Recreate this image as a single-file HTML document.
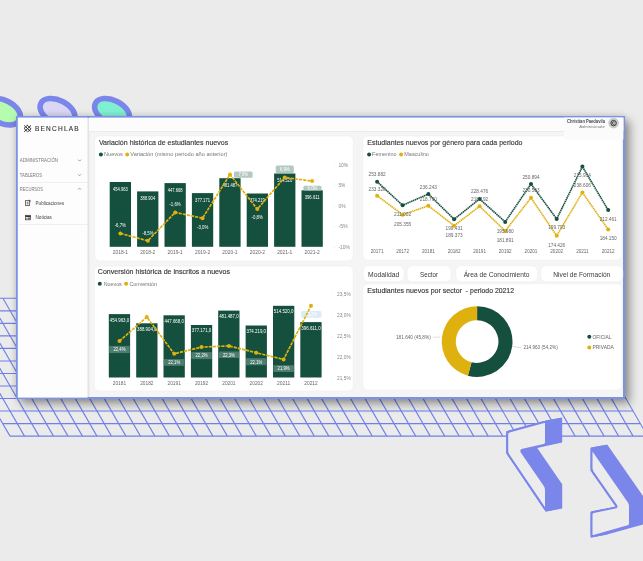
<!DOCTYPE html><html><head><meta charset="utf-8"><title>Benchlab</title>
<style>
html,body{margin:0;padding:0}
body{width:643px;height:561px;overflow:hidden;background:#ebebeb;position:relative;font-family:"Liberation Sans",sans-serif}
svg{position:absolute;left:0;top:0;will-change:transform}
text{font-family:"Liberation Sans",sans-serif}
.ser{font-family:"Liberation Serif",serif}
</style></head><body>
<svg width="643" height="561" viewBox="0 0 643 561">
<g stroke="#7080e8" stroke-width="1.1" fill="none">
<path d="M-69.53 298.30H568.03"/>
<path d="M-62.30 310.83H575.26"/>
<path d="M-55.07 323.36H582.49"/>
<path d="M-47.84 335.89H589.72"/>
<path d="M-40.61 348.42H596.95"/>
<path d="M-33.38 360.95H604.18"/>
<path d="M-26.15 373.48H611.41"/>
<path d="M-18.92 386.01H618.64"/>
<path d="M-11.69 398.54H625.87"/>
<path d="M-4.46 411.07H633.10"/>
<path d="M2.77 423.60H640.33"/>
<path d="M10.00 436.13H647.56"/>
<path d="M-69.53 298.30L10.00 436.13"/>
<path d="M-55.04 298.30L24.49 436.13"/>
<path d="M-40.55 298.30L38.98 436.13"/>
<path d="M-26.06 298.30L53.47 436.13"/>
<path d="M-11.57 298.30L67.96 436.13"/>
<path d="M2.92 298.30L82.45 436.13"/>
<path d="M17.41 298.30L96.94 436.13"/>
<path d="M31.90 298.30L111.43 436.13"/>
<path d="M46.39 298.30L125.92 436.13"/>
<path d="M60.88 298.30L140.41 436.13"/>
<path d="M75.37 298.30L154.90 436.13"/>
<path d="M89.86 298.30L169.39 436.13"/>
<path d="M104.35 298.30L183.88 436.13"/>
<path d="M118.84 298.30L198.37 436.13"/>
<path d="M133.33 298.30L212.86 436.13"/>
<path d="M147.82 298.30L227.35 436.13"/>
<path d="M162.31 298.30L241.84 436.13"/>
<path d="M176.80 298.30L256.33 436.13"/>
<path d="M191.29 298.30L270.82 436.13"/>
<path d="M205.78 298.30L285.31 436.13"/>
<path d="M220.27 298.30L299.80 436.13"/>
<path d="M234.76 298.30L314.29 436.13"/>
<path d="M249.25 298.30L328.78 436.13"/>
<path d="M263.74 298.30L343.27 436.13"/>
<path d="M278.23 298.30L357.76 436.13"/>
<path d="M292.72 298.30L372.25 436.13"/>
<path d="M307.21 298.30L386.74 436.13"/>
<path d="M321.70 298.30L401.23 436.13"/>
<path d="M336.19 298.30L415.72 436.13"/>
<path d="M350.68 298.30L430.21 436.13"/>
<path d="M365.17 298.30L444.70 436.13"/>
<path d="M379.66 298.30L459.19 436.13"/>
<path d="M394.15 298.30L473.68 436.13"/>
<path d="M408.64 298.30L488.17 436.13"/>
<path d="M423.13 298.30L502.66 436.13"/>
<path d="M437.62 298.30L517.15 436.13"/>
<path d="M452.11 298.30L531.64 436.13"/>
<path d="M466.60 298.30L546.13 436.13"/>
<path d="M481.09 298.30L560.62 436.13"/>
<path d="M495.58 298.30L575.11 436.13"/>
<path d="M510.07 298.30L589.60 436.13"/>
<path d="M524.56 298.30L604.09 436.13"/>
<path d="M539.05 298.30L618.58 436.13"/>
<path d="M553.54 298.30L633.07 436.13"/>
<path d="M568.03 298.30L647.56 436.13"/>
</g>
<ellipse cx="3.0" cy="111.7" rx="18.6" ry="11.5" transform="rotate(26.5 3.0 111.7)" fill="#b6fcb0" stroke="#7b86ea" stroke-width="5.6"/>
<ellipse cx="57.5" cy="111.7" rx="18.6" ry="11.5" transform="rotate(26.5 57.5 111.7)" fill="#dad6f4" stroke="#7b86ea" stroke-width="5.6"/>
<ellipse cx="112.0" cy="111.7" rx="18.6" ry="11.5" transform="rotate(26.5 112.0 111.7)" fill="#80f0d2" stroke="#7b86ea" stroke-width="5.6"/>
<g fill="#7b86ea" stroke="#7b86ea" stroke-width="1.8" stroke-linejoin="round"><path d="M507.2 432.0L546.0 421.5L561.3 418.6L522.5 429.1Z"/><path d="M546.0 421.5L546.0 444.5L561.3 441.6L561.3 418.6Z"/><path d="M546.0 444.5L520.5 450.3L535.8 447.4L561.3 441.6Z"/><path d="M520.5 450.3L546.0 487.5L561.3 484.6L535.8 447.4Z"/><path d="M546.0 487.5L546.0 510.5L561.3 507.6L561.3 484.6Z"/><path d="M546.0 510.5L507.2 453.0L522.5 450.1L561.3 507.6Z"/><path d="M507.2 453.0L507.2 432.0L522.5 429.1L522.5 450.1Z"/><path d="M507.20 434.20Q507.20 432.00 509.32 431.43L543.88 422.07Q546.00 421.50 546.00 423.70L546.00 442.30Q546.00 444.50 543.85 444.99L522.65 449.81Q520.50 450.30 521.74 452.11L544.76 485.69Q546.00 487.50 546.00 489.70L546.00 508.30Q546.00 510.50 544.77 508.68L508.43 454.82Q507.20 453.00 507.20 450.80Z" fill="#ececec" stroke-width="2"/></g>
<g fill="#7b86ea" stroke="#7b86ea" stroke-width="1.8" stroke-linejoin="round"><path d="M591.5 448.5L630.0 503.7L645.3 500.8L606.8 445.6Z"/><path d="M630.0 503.7L630.0 525.7L645.3 522.8L645.3 500.8Z"/><path d="M630.0 525.7L591.5 536.5L606.8 533.6L645.3 522.8Z"/><path d="M591.5 536.5L591.5 512.5L606.8 509.6L606.8 533.6Z"/><path d="M591.5 512.5L617.3 507.2L632.6 504.3L606.8 509.6Z"/><path d="M617.3 507.2L591.5 470.3L606.8 467.4L632.6 504.3Z"/><path d="M591.5 470.3L591.5 448.5L606.8 445.6L606.8 467.4Z"/><path d="M591.50 450.70Q591.50 448.50 592.76 450.30L628.74 501.90Q630.00 503.70 630.00 505.90L630.00 523.50Q630.00 525.70 627.88 526.29L593.62 535.91Q591.50 536.50 591.50 534.30L591.50 514.70Q591.50 512.50 593.65 512.06L615.15 507.64Q617.30 507.20 616.04 505.40L592.76 472.10Q591.50 470.30 591.50 468.10Z" fill="#ececec" stroke-width="2"/></g>
</svg>
<div style="position:absolute;left:16.0px;top:116.0px;width:609.0px;height:283.4px;background:#f5f5f6;border:solid #7b93e6;border-width:2px 2px 2px 2.3px;box-sizing:border-box;box-shadow:5px 5px 9px rgba(0,0,0,0.36), 0 0 7px rgba(0,0,0,0.16)"></div>
<svg width="643" height="561" viewBox="0 0 643 561">
<rect x="17.8" y="117.6" width="69.8" height="280" fill="#fdfdfd"/>
<defs><linearGradient id="sg" x1="0" x2="1" y1="0" y2="0"><stop offset="0" stop-color="#000" stop-opacity="0.10"/><stop offset="1" stop-color="#000" stop-opacity="0"/></linearGradient></defs><rect x="87.6" y="117.6" width="2.6" height="280" fill="url(#sg)"/>
<rect x="89" y="117.6" width="534.4" height="13.4" fill="#fcfcfc"/>
<rect x="89" y="131" width="475" height="0.8" fill="#e9e9e9"/>
<rect x="94.6" y="136.0" width="258.7" height="125.0" rx="5" fill="#fff" stroke="#ececec" stroke-width="0.6"/>
<rect x="94.3" y="266.0" width="259.0" height="125.0" rx="5" fill="#fff" stroke="#ececec" stroke-width="0.6"/>
<rect x="362.8" y="136.0" width="259.2" height="124.2" rx="5" fill="#fff" stroke="#ececec" stroke-width="0.6"/>
<rect x="362.8" y="283.8" width="259.2" height="106.5" rx="5" fill="#fff" stroke="#ececec" stroke-width="0.6"/>
<rect x="564" y="117.6" width="59.4" height="22" fill="#fbfbfb"/>
<rect x="363.1" y="265.6" width="41.0" height="16.3" rx="5.5" fill="#fff" stroke="#ececec" stroke-width="0.6"/>
<text x="383.6" y="276.8" font-size="6.9" fill="#3a3a3a" text-anchor="middle" textLength="31.2" lengthAdjust="spacingAndGlyphs">Modalidad</text>
<rect x="407.0" y="265.6" width="44.2" height="16.3" rx="5.5" fill="#fff" stroke="#ececec" stroke-width="0.6"/>
<text x="429.1" y="276.8" font-size="6.9" fill="#3a3a3a" text-anchor="middle" textLength="18.0" lengthAdjust="spacingAndGlyphs">Sector</text>
<rect x="455.8" y="265.6" width="81.7" height="16.3" rx="5.5" fill="#fff" stroke="#ececec" stroke-width="0.6"/>
<text x="496.6" y="276.8" font-size="6.9" fill="#3a3a3a" text-anchor="middle" textLength="65.9" lengthAdjust="spacingAndGlyphs">Área de Conocimiento</text>
<rect x="540.7" y="265.6" width="82.1" height="16.3" rx="5.5" fill="#fff" stroke="#ececec" stroke-width="0.6"/>
<text x="581.8" y="276.8" font-size="6.9" fill="#3a3a3a" text-anchor="middle" textLength="56.9" lengthAdjust="spacingAndGlyphs">Nivel de Formación</text>
<g stroke="#333" stroke-width="1" fill="none"><path d="M24.2 125.4l6.6 6.2M27.2 125.2l3.8 3.6M24 128.4l3.6 3.4M31 125.4l-6.8 6.4M27.4 125.2l-3.4 3.2M31.2 128.6l-3.4 3.2"/></g>
<text x="34.9" y="130.8" font-size="6.5" fill="#333" textLength="43.8" lengthAdjust="spacing" stroke="#333" stroke-width="0.12">BENCHLAB</text>
<text x="19.85" y="162.00" font-size="4.8" fill="#777" text-anchor="start" font-weight="normal" textLength="38.20" lengthAdjust="spacingAndGlyphs" >ADMINISTRACIÓN</text>
<text x="19.85" y="176.50" font-size="4.8" fill="#777" text-anchor="start" font-weight="normal" textLength="22.10" lengthAdjust="spacingAndGlyphs" >TABLEROS</text>
<text x="19.85" y="190.90" font-size="4.8" fill="#777" text-anchor="start" font-weight="normal" textLength="23.10" lengthAdjust="spacingAndGlyphs" >RECURSOS</text>
<g stroke="#666" stroke-width="0.6" fill="none"><path d="M78.1 159.6l1.5 1.5l1.5-1.5M78.1 174.3l1.5 1.5l1.5-1.5M78.1 189.6l1.5-1.5l1.5 1.5"/></g>
<rect x="17.8" y="182.3" width="70.2" height="0.6" fill="#e8e8e8"/>
<rect x="17.8" y="224.1" width="70.2" height="0.6" fill="#e8e8e8"/>
<text x="35.50" y="204.90" font-size="5.0" fill="#444" text-anchor="start" font-weight="normal" textLength="28.60" lengthAdjust="spacingAndGlyphs" >Publicaciones</text>
<text x="35.50" y="218.70" font-size="5.0" fill="#444" text-anchor="start" font-weight="normal" textLength="16.40" lengthAdjust="spacingAndGlyphs" >Noticias</text>
<g stroke="#333" stroke-width="0.7" fill="none"><rect x="25.5" y="200.7" width="4.2" height="4.9"/><path d="M26.7 202.3h1.8M26.7 203.8h1.8"/><path d="M28.6 200.3h1.6v1.6" stroke-width="0.6"/></g>
<g stroke="#333" stroke-width="0.7" fill="none"><rect x="25.5" y="215.3" width="5" height="4.5"/><path d="M25.5 216.3h5" stroke-width="1.4"/><path d="M26.3 218.3h1.3M28.3 217.8h1.3v1.1h-1.3z"/></g>
<text x="605.00" y="122.90" font-size="5.4" fill="#4a4a4a" text-anchor="end" font-weight="bold" textLength="37.90" lengthAdjust="spacingAndGlyphs" >Christian Paedavila</text>
<text x="605.00" y="127.60" font-size="4.4" fill="#777" text-anchor="end" font-weight="normal" textLength="25.80" lengthAdjust="spacingAndGlyphs" font-style="italic">Administrador</text>
<circle cx="613.6" cy="123.1" r="5.3" fill="#cacaca"/><circle cx="613.6" cy="123.1" r="2.7" fill="none" stroke="#2e2e2e" stroke-width="0.9"/><path d="M614.6 122.2a1.3 1.3 0 1 0 0 1.8" fill="none" stroke="#2e2e2e" stroke-width="0.8"/>
<text x="98.90" y="144.90" font-size="7.1" fill="#383838" text-anchor="start" font-weight="normal" textLength="129.30" lengthAdjust="spacingAndGlyphs" stroke="#383838" stroke-width="0.14">Variación histórica de estudiantes nuevos</text>
<circle cx="100.9" cy="154.5" r="2.0" fill="#15503f"/>
<text x="104.10" y="156.40" font-size="5.6" fill="#777" text-anchor="start" font-weight="normal" textLength="18.80" lengthAdjust="spacingAndGlyphs" >Nuevos</text>
<circle cx="127.2" cy="154.5" r="2.0" fill="#dfb10f"/>
<text x="130.30" y="156.40" font-size="5.6" fill="#777" text-anchor="start" font-weight="normal" textLength="97.10" lengthAdjust="spacingAndGlyphs" >Variación (mismo periodo año anterior)</text>
<rect x="109.7" y="182.0" width="21.3" height="64.8" fill="#15503f"/>
<rect x="137.1" y="191.4" width="21.3" height="55.4" fill="#15503f"/>
<rect x="164.5" y="183.1" width="21.3" height="63.7" fill="#15503f"/>
<rect x="191.9" y="193.1" width="21.3" height="53.7" fill="#15503f"/>
<rect x="219.3" y="178.2" width="21.3" height="68.6" fill="#15503f"/>
<rect x="246.7" y="193.5" width="21.3" height="53.3" fill="#15503f"/>
<rect x="274.1" y="173.5" width="21.3" height="73.3" fill="#15503f"/>
<rect x="301.5" y="190.3" width="21.3" height="56.5" fill="#15503f"/>
<text x="120.35" y="253.80" font-size="5.0" fill="#666" text-anchor="middle" font-weight="normal" textLength="15.20" lengthAdjust="spacingAndGlyphs" >2018-1</text>
<text x="147.75" y="253.80" font-size="5.0" fill="#666" text-anchor="middle" font-weight="normal" textLength="15.20" lengthAdjust="spacingAndGlyphs" >2018-2</text>
<text x="175.15" y="253.80" font-size="5.0" fill="#666" text-anchor="middle" font-weight="normal" textLength="15.20" lengthAdjust="spacingAndGlyphs" >2019-1</text>
<text x="202.55" y="253.80" font-size="5.0" fill="#666" text-anchor="middle" font-weight="normal" textLength="15.20" lengthAdjust="spacingAndGlyphs" >2019-2</text>
<text x="229.95" y="253.80" font-size="5.0" fill="#666" text-anchor="middle" font-weight="normal" textLength="15.20" lengthAdjust="spacingAndGlyphs" >2020-1</text>
<text x="257.35" y="253.80" font-size="5.0" fill="#666" text-anchor="middle" font-weight="normal" textLength="15.20" lengthAdjust="spacingAndGlyphs" >2020-2</text>
<text x="284.75" y="253.80" font-size="5.0" fill="#666" text-anchor="middle" font-weight="normal" textLength="15.20" lengthAdjust="spacingAndGlyphs" >2021-1</text>
<text x="312.15" y="253.80" font-size="5.0" fill="#666" text-anchor="middle" font-weight="normal" textLength="15.20" lengthAdjust="spacingAndGlyphs" >2021-2</text>
<text x="338.40" y="166.60" font-size="4.9" fill="#888" text-anchor="start" font-weight="normal" textLength="9.80" lengthAdjust="spacingAndGlyphs" >10%</text>
<rect x="334" y="164.6" width="0.7" height="0.5" fill="#ccc"/>
<text x="338.40" y="187.20" font-size="4.9" fill="#888" text-anchor="start" font-weight="normal" textLength="7.00" lengthAdjust="spacingAndGlyphs" >5%</text>
<rect x="334" y="185.2" width="0.7" height="0.5" fill="#ccc"/>
<text x="338.40" y="208.00" font-size="4.9" fill="#888" text-anchor="start" font-weight="normal" textLength="7.20" lengthAdjust="spacingAndGlyphs" >0%</text>
<rect x="334" y="206.0" width="0.7" height="0.5" fill="#ccc"/>
<text x="338.40" y="228.20" font-size="4.9" fill="#888" text-anchor="start" font-weight="normal" textLength="9.30" lengthAdjust="spacingAndGlyphs" >-5%</text>
<rect x="334" y="226.2" width="0.7" height="0.5" fill="#ccc"/>
<text x="338.40" y="249.10" font-size="4.9" fill="#888" text-anchor="start" font-weight="normal" textLength="11.40" lengthAdjust="spacingAndGlyphs" >-10%</text>
<rect x="334" y="247.1" width="0.7" height="0.5" fill="#ccc"/>
<rect x="234.0" y="171.4" width="18.6" height="6.3" rx="1.5" fill="#b3c8c1"/>
<text x="243.30" y="176.25" font-size="4.7" fill="#fff" text-anchor="middle" font-weight="normal" textLength="9.80" lengthAdjust="spacingAndGlyphs" >7,6%</text>
<rect x="275.7" y="165.6" width="18.1" height="7.3" rx="1.5" fill="#b3c8c1"/>
<text x="284.75" y="170.95" font-size="4.7" fill="#fff" text-anchor="middle" font-weight="normal" textLength="9.80" lengthAdjust="spacingAndGlyphs" >6,9%</text>
<rect x="303.4" y="185.7" width="18.1" height="4.9" rx="1.5" fill="#b3c8c1"/>
<text x="312.45" y="189.85" font-size="4.7" fill="#fff" text-anchor="middle" font-weight="normal" textLength="9.80" lengthAdjust="spacingAndGlyphs" >6,0%</text>
<text x="120.35" y="190.51" font-size="5.0" fill="#fff" text-anchor="middle" font-weight="normal" textLength="14.90" lengthAdjust="spacingAndGlyphs" >454.963</text>
<text x="147.75" y="199.92" font-size="5.0" fill="#fff" text-anchor="middle" font-weight="normal" textLength="14.90" lengthAdjust="spacingAndGlyphs" >388.904</text>
<text x="175.15" y="191.55" font-size="5.0" fill="#fff" text-anchor="middle" font-weight="normal" textLength="14.90" lengthAdjust="spacingAndGlyphs" >447.668</text>
<text x="202.55" y="201.59" font-size="5.0" fill="#fff" text-anchor="middle" font-weight="normal" textLength="14.90" lengthAdjust="spacingAndGlyphs" >377.171</text>
<text x="229.95" y="186.74" font-size="5.0" fill="#fff" text-anchor="middle" font-weight="normal" textLength="14.90" lengthAdjust="spacingAndGlyphs" >481.487</text>
<text x="257.35" y="202.01" font-size="5.0" fill="#fff" text-anchor="middle" font-weight="normal" textLength="14.90" lengthAdjust="spacingAndGlyphs" >374.219</text>
<text x="284.75" y="182.03" font-size="5.0" fill="#fff" text-anchor="middle" font-weight="normal" textLength="14.90" lengthAdjust="spacingAndGlyphs" >514.520</text>
<text x="312.15" y="198.82" font-size="5.0" fill="#fff" text-anchor="middle" font-weight="normal" textLength="14.90" lengthAdjust="spacingAndGlyphs" >396.611</text>
<text x="120.30" y="226.80" font-size="5.0" fill="#fff" text-anchor="middle" font-weight="normal" textLength="11.30" lengthAdjust="spacingAndGlyphs" >-6,7%</text>
<text x="147.90" y="234.70" font-size="5.0" fill="#fff" text-anchor="middle" font-weight="normal" textLength="11.30" lengthAdjust="spacingAndGlyphs" >-8,5%</text>
<text x="175.00" y="206.10" font-size="5.0" fill="#fff" text-anchor="middle" font-weight="normal" textLength="11.30" lengthAdjust="spacingAndGlyphs" >-1,6%</text>
<text x="202.60" y="228.80" font-size="5.0" fill="#fff" text-anchor="middle" font-weight="normal" textLength="11.30" lengthAdjust="spacingAndGlyphs" >-3,0%</text>
<text x="257.20" y="219.10" font-size="5.0" fill="#fff" text-anchor="middle" font-weight="normal" textLength="11.30" lengthAdjust="spacingAndGlyphs" >-0,8%</text>
<path d="M120.4 233.4L147.8 240.8L175.2 212.4L202.5 218.2L230.0 174.5L257.3 209.1L284.7 177.4L312.1 181.1" fill="none" stroke="#dfb10f" stroke-width="1.65" stroke-dasharray="3.2 1" stroke-linejoin="round"/>
<circle cx="120.4" cy="233.4" r="2.0" fill="#dfb10f"/>
<circle cx="147.8" cy="240.8" r="2.0" fill="#dfb10f"/>
<circle cx="175.2" cy="212.4" r="2.0" fill="#dfb10f"/>
<circle cx="202.5" cy="218.2" r="2.0" fill="#dfb10f"/>
<circle cx="230.0" cy="174.5" r="2.0" fill="#dfb10f"/>
<circle cx="257.3" cy="209.1" r="2.0" fill="#dfb10f"/>
<circle cx="284.7" cy="177.4" r="2.0" fill="#dfb10f"/>
<circle cx="312.1" cy="181.1" r="2.0" fill="#dfb10f"/>
<text x="97.80" y="274.10" font-size="7.1" fill="#383838" text-anchor="start" font-weight="normal" textLength="132.20" lengthAdjust="spacingAndGlyphs" stroke="#383838" stroke-width="0.14">Conversión histórica de inscritos a nuevos</text>
<circle cx="99.8" cy="283.7" r="2.0" fill="#15503f"/>
<text x="103.70" y="285.60" font-size="5.6" fill="#777" text-anchor="start" font-weight="normal" textLength="18.10" lengthAdjust="spacingAndGlyphs" >Nuevos</text>
<circle cx="126.1" cy="283.7" r="2.0" fill="#dfb10f"/>
<text x="129.40" y="285.60" font-size="5.6" fill="#777" text-anchor="start" font-weight="normal" textLength="27.60" lengthAdjust="spacingAndGlyphs" >Conversión</text>
<rect x="108.8" y="314.1" width="21.3" height="63.4" fill="#15503f"/>
<rect x="136.2" y="323.3" width="21.3" height="54.2" fill="#15503f"/>
<rect x="163.5" y="315.3" width="21.3" height="62.2" fill="#15503f"/>
<rect x="190.9" y="325.0" width="21.3" height="52.5" fill="#15503f"/>
<rect x="218.2" y="310.6" width="21.3" height="66.9" fill="#15503f"/>
<rect x="245.6" y="325.5" width="21.3" height="52.0" fill="#15503f"/>
<rect x="273.0" y="305.8" width="21.3" height="71.7" fill="#15503f"/>
<rect x="300.3" y="322.1" width="21.3" height="55.4" fill="#15503f"/>
<text x="119.45" y="384.50" font-size="5.0" fill="#666" text-anchor="middle" font-weight="normal" textLength="13.30" lengthAdjust="spacingAndGlyphs" >20181</text>
<text x="146.81" y="384.50" font-size="5.0" fill="#666" text-anchor="middle" font-weight="normal" textLength="13.30" lengthAdjust="spacingAndGlyphs" >20182</text>
<text x="174.17" y="384.50" font-size="5.0" fill="#666" text-anchor="middle" font-weight="normal" textLength="13.30" lengthAdjust="spacingAndGlyphs" >20191</text>
<text x="201.53" y="384.50" font-size="5.0" fill="#666" text-anchor="middle" font-weight="normal" textLength="13.30" lengthAdjust="spacingAndGlyphs" >20192</text>
<text x="228.89" y="384.50" font-size="5.0" fill="#666" text-anchor="middle" font-weight="normal" textLength="13.30" lengthAdjust="spacingAndGlyphs" >20201</text>
<text x="256.25" y="384.50" font-size="5.0" fill="#666" text-anchor="middle" font-weight="normal" textLength="13.30" lengthAdjust="spacingAndGlyphs" >20202</text>
<text x="283.61" y="384.50" font-size="5.0" fill="#666" text-anchor="middle" font-weight="normal" textLength="13.30" lengthAdjust="spacingAndGlyphs" >20211</text>
<text x="310.97" y="384.50" font-size="5.0" fill="#666" text-anchor="middle" font-weight="normal" textLength="13.30" lengthAdjust="spacingAndGlyphs" >20212</text>
<text x="337.00" y="295.70" font-size="4.9" fill="#888" text-anchor="start" font-weight="normal" textLength="13.70" lengthAdjust="spacingAndGlyphs" >23,5%</text>
<rect x="332.3" y="293.7" width="0.7" height="0.5" fill="#ccc"/>
<text x="337.00" y="316.80" font-size="4.9" fill="#888" text-anchor="start" font-weight="normal" textLength="13.70" lengthAdjust="spacingAndGlyphs" >23,0%</text>
<rect x="332.3" y="314.8" width="0.7" height="0.5" fill="#ccc"/>
<text x="337.00" y="338.10" font-size="4.9" fill="#888" text-anchor="start" font-weight="normal" textLength="13.70" lengthAdjust="spacingAndGlyphs" >22,5%</text>
<rect x="332.3" y="336.1" width="0.7" height="0.5" fill="#ccc"/>
<text x="337.00" y="358.80" font-size="4.9" fill="#888" text-anchor="start" font-weight="normal" textLength="13.70" lengthAdjust="spacingAndGlyphs" >22,0%</text>
<rect x="332.3" y="356.8" width="0.7" height="0.5" fill="#ccc"/>
<text x="337.00" y="379.70" font-size="4.9" fill="#888" text-anchor="start" font-weight="normal" textLength="13.70" lengthAdjust="spacingAndGlyphs" >21,5%</text>
<rect x="332.3" y="377.7" width="0.7" height="0.5" fill="#ccc"/>
<rect x="109.2" y="345.9" width="20.5" height="7.2" fill="#4e7d70"/>
<text x="119.45" y="351.30" font-size="5.0" fill="#fff" text-anchor="middle" font-weight="normal" textLength="12.00" lengthAdjust="spacingAndGlyphs" >22,4%</text>
<rect x="163.9" y="359.1" width="20.5" height="6.7" fill="#4e7d70"/>
<text x="174.17" y="364.25" font-size="5.0" fill="#fff" text-anchor="middle" font-weight="normal" textLength="12.00" lengthAdjust="spacingAndGlyphs" >22,1%</text>
<rect x="191.3" y="352.1" width="20.5" height="7.0" fill="#4e7d70"/>
<text x="201.53" y="357.40" font-size="5.0" fill="#fff" text-anchor="middle" font-weight="normal" textLength="12.00" lengthAdjust="spacingAndGlyphs" >22,2%</text>
<rect x="218.6" y="351.5" width="20.5" height="6.5" fill="#4e7d70"/>
<text x="228.89" y="356.55" font-size="5.0" fill="#fff" text-anchor="middle" font-weight="normal" textLength="12.00" lengthAdjust="spacingAndGlyphs" >22,3%</text>
<rect x="246.0" y="358.2" width="20.5" height="7.0" fill="#4e7d70"/>
<text x="256.25" y="363.50" font-size="5.0" fill="#fff" text-anchor="middle" font-weight="normal" textLength="12.00" lengthAdjust="spacingAndGlyphs" >22,1%</text>
<rect x="273.4" y="365.2" width="20.5" height="6.8" fill="#4e7d70"/>
<text x="283.61" y="370.40" font-size="5.0" fill="#fff" text-anchor="middle" font-weight="normal" textLength="12.00" lengthAdjust="spacingAndGlyphs" >21,9%</text>
<rect x="301" y="311" width="20.5" height="6.8" rx="1.5" fill="#dcebf7"/>
<text x="311.20" y="316.20" font-size="5.0" fill="#fff" text-anchor="middle" font-weight="normal" textLength="12.00" lengthAdjust="spacingAndGlyphs" >23,2%</text>
<text x="119.45" y="321.50" font-size="4.7" fill="#fff" text-anchor="middle" font-weight="normal" textLength="19.50" lengthAdjust="spacingAndGlyphs" >454.963,0</text>
<text x="146.81" y="330.70" font-size="4.7" fill="#fff" text-anchor="middle" font-weight="normal" textLength="19.50" lengthAdjust="spacingAndGlyphs" >388.904,0</text>
<text x="174.17" y="322.70" font-size="4.7" fill="#fff" text-anchor="middle" font-weight="normal" textLength="19.50" lengthAdjust="spacingAndGlyphs" >447.668,0</text>
<text x="201.53" y="332.40" font-size="4.7" fill="#fff" text-anchor="middle" font-weight="normal" textLength="19.50" lengthAdjust="spacingAndGlyphs" >377.171,0</text>
<text x="228.89" y="318.00" font-size="4.7" fill="#fff" text-anchor="middle" font-weight="normal" textLength="19.50" lengthAdjust="spacingAndGlyphs" >481.487,0</text>
<text x="256.25" y="332.90" font-size="4.7" fill="#fff" text-anchor="middle" font-weight="normal" textLength="19.50" lengthAdjust="spacingAndGlyphs" >374.219,0</text>
<text x="283.61" y="313.20" font-size="4.7" fill="#fff" text-anchor="middle" font-weight="normal" textLength="19.50" lengthAdjust="spacingAndGlyphs" >514.520,0</text>
<text x="310.97" y="329.50" font-size="4.7" fill="#fff" text-anchor="middle" font-weight="normal" textLength="19.50" lengthAdjust="spacingAndGlyphs" >396.611,0</text>
<path d="M119.5 341.1L146.8 317.0L174.2 353.8L201.5 347.1L228.9 345.9L256.2 352.7L283.6 359.4L311.0 305.7" fill="none" stroke="#dfb10f" stroke-width="1.65" stroke-dasharray="3.2 1" stroke-linejoin="round"/>
<circle cx="119.5" cy="341.1" r="2.0" fill="#dfb10f"/>
<circle cx="146.8" cy="317.0" r="2.0" fill="#dfb10f"/>
<circle cx="174.2" cy="353.8" r="2.0" fill="#dfb10f"/>
<circle cx="201.5" cy="347.1" r="2.0" fill="#dfb10f"/>
<circle cx="228.9" cy="345.9" r="2.0" fill="#dfb10f"/>
<circle cx="256.2" cy="352.7" r="2.0" fill="#dfb10f"/>
<circle cx="283.6" cy="359.4" r="2.0" fill="#dfb10f"/>
<circle cx="311.0" cy="305.7" r="2.0" fill="#dfb10f"/>
<text x="367.30" y="144.90" font-size="7.1" fill="#383838" text-anchor="start" font-weight="normal" textLength="155.20" lengthAdjust="spacingAndGlyphs" stroke="#383838" stroke-width="0.14">Estudiantes nuevos por género para cada periodo</text>
<circle cx="369.1" cy="154.5" r="2.0" fill="#15503f"/>
<text x="372.00" y="156.40" font-size="5.6" fill="#777" text-anchor="start" font-weight="normal" textLength="24.60" lengthAdjust="spacingAndGlyphs" >Femenino</text>
<circle cx="401.1" cy="154.5" r="2.0" fill="#dfb10f"/>
<text x="404.30" y="156.40" font-size="5.6" fill="#777" text-anchor="start" font-weight="normal" textLength="24.60" lengthAdjust="spacingAndGlyphs" >Masculino</text>
<text x="377.10" y="253.20" font-size="4.6" fill="#666" text-anchor="middle" font-weight="normal" >20171</text>
<text x="402.60" y="253.20" font-size="4.6" fill="#666" text-anchor="middle" font-weight="normal" >20172</text>
<text x="428.40" y="253.20" font-size="4.6" fill="#666" text-anchor="middle" font-weight="normal" >20181</text>
<text x="454.10" y="253.20" font-size="4.6" fill="#666" text-anchor="middle" font-weight="normal" >20182</text>
<text x="479.60" y="253.20" font-size="4.6" fill="#666" text-anchor="middle" font-weight="normal" >20191</text>
<text x="505.20" y="253.20" font-size="4.6" fill="#666" text-anchor="middle" font-weight="normal" >20192</text>
<text x="531.00" y="253.20" font-size="4.6" fill="#666" text-anchor="middle" font-weight="normal" >20201</text>
<text x="556.70" y="253.20" font-size="4.6" fill="#666" text-anchor="middle" font-weight="normal" >20202</text>
<text x="582.40" y="253.20" font-size="4.6" fill="#666" text-anchor="middle" font-weight="normal" >20211</text>
<text x="608.20" y="253.20" font-size="4.6" fill="#666" text-anchor="middle" font-weight="normal" >20212</text>
<path d="M377.1 181.7L402.6 205.3L428.4 194.0L454.1 219.2L479.6 199.0L505.2 221.9L531.0 183.9L556.7 219.0L582.4 166.6L608.2 210.1" fill="none" stroke="#15503f" stroke-width="1.6" stroke-dasharray="1.5 0.5" stroke-linejoin="round"/>
<circle cx="377.1" cy="181.7" r="2.0" fill="#15503f"/>
<circle cx="402.6" cy="205.3" r="2.0" fill="#15503f"/>
<circle cx="428.4" cy="194.0" r="2.0" fill="#15503f"/>
<circle cx="454.1" cy="219.2" r="2.0" fill="#15503f"/>
<circle cx="479.6" cy="199.0" r="2.0" fill="#15503f"/>
<circle cx="505.2" cy="221.9" r="2.0" fill="#15503f"/>
<circle cx="531.0" cy="183.9" r="2.0" fill="#15503f"/>
<circle cx="556.7" cy="219.0" r="2.0" fill="#15503f"/>
<circle cx="582.4" cy="166.6" r="2.0" fill="#15503f"/>
<circle cx="608.2" cy="210.1" r="2.0" fill="#15503f"/>
<path d="M377.1 195.7L402.6 214.7L428.4 205.8L454.1 225.7L479.6 206.3L505.2 231.0L531.0 197.8L556.7 235.8L582.4 192.5L608.2 229.4" fill="none" stroke="#dfb10f" stroke-width="1.6" stroke-dasharray="1.5 0.5" stroke-linejoin="round"/>
<circle cx="377.1" cy="195.7" r="2.0" fill="#dfb10f"/>
<circle cx="402.6" cy="214.7" r="2.0" fill="#dfb10f"/>
<circle cx="428.4" cy="205.8" r="2.0" fill="#dfb10f"/>
<circle cx="454.1" cy="225.7" r="2.0" fill="#dfb10f"/>
<circle cx="479.6" cy="206.3" r="2.0" fill="#dfb10f"/>
<circle cx="505.2" cy="231.0" r="2.0" fill="#dfb10f"/>
<circle cx="531.0" cy="197.8" r="2.0" fill="#dfb10f"/>
<circle cx="556.7" cy="235.8" r="2.0" fill="#dfb10f"/>
<circle cx="582.4" cy="192.5" r="2.0" fill="#dfb10f"/>
<circle cx="608.2" cy="229.4" r="2.0" fill="#dfb10f"/>
<text x="377.10" y="175.70" font-size="4.8" fill="#666" text-anchor="middle" font-weight="normal" textLength="17.10" lengthAdjust="spacingAndGlyphs" >253.882</text>
<text x="402.60" y="215.70" font-size="4.8" fill="#666" text-anchor="middle" font-weight="normal" textLength="17.10" lengthAdjust="spacingAndGlyphs" >211.002</text>
<text x="428.40" y="188.70" font-size="4.8" fill="#666" text-anchor="middle" font-weight="normal" textLength="17.10" lengthAdjust="spacingAndGlyphs" >236.243</text>
<text x="454.10" y="229.60" font-size="4.8" fill="#666" text-anchor="middle" font-weight="normal" textLength="17.10" lengthAdjust="spacingAndGlyphs" >199.431</text>
<text x="479.60" y="192.80" font-size="4.8" fill="#666" text-anchor="middle" font-weight="normal" textLength="17.10" lengthAdjust="spacingAndGlyphs" >228.476</text>
<text x="505.20" y="232.70" font-size="4.8" fill="#666" text-anchor="middle" font-weight="normal" textLength="17.10" lengthAdjust="spacingAndGlyphs" >195.980</text>
<text x="531.00" y="178.60" font-size="4.8" fill="#666" text-anchor="middle" font-weight="normal" textLength="17.10" lengthAdjust="spacingAndGlyphs" >250.894</text>
<text x="556.70" y="229.10" font-size="4.8" fill="#666" text-anchor="middle" font-weight="normal" textLength="17.10" lengthAdjust="spacingAndGlyphs" >199.793</text>
<text x="582.40" y="176.70" font-size="4.8" fill="#666" text-anchor="middle" font-weight="normal" textLength="17.10" lengthAdjust="spacingAndGlyphs" >275.914</text>
<text x="608.20" y="220.70" font-size="4.8" fill="#666" text-anchor="middle" font-weight="normal" textLength="17.10" lengthAdjust="spacingAndGlyphs" >212.461</text>
<text x="377.10" y="190.60" font-size="4.8" fill="#666" text-anchor="middle" font-weight="normal" textLength="17.10" lengthAdjust="spacingAndGlyphs" >233.328</text>
<text x="402.60" y="225.50" font-size="4.8" fill="#666" text-anchor="middle" font-weight="normal" textLength="17.10" lengthAdjust="spacingAndGlyphs" >205.355</text>
<text x="428.40" y="200.50" font-size="4.8" fill="#666" text-anchor="middle" font-weight="normal" textLength="17.10" lengthAdjust="spacingAndGlyphs" >218.760</text>
<text x="454.10" y="236.60" font-size="4.8" fill="#666" text-anchor="middle" font-weight="normal" textLength="17.10" lengthAdjust="spacingAndGlyphs" >189.373</text>
<text x="479.60" y="200.70" font-size="4.8" fill="#666" text-anchor="middle" font-weight="normal" textLength="17.10" lengthAdjust="spacingAndGlyphs" >218.192</text>
<text x="505.20" y="241.60" font-size="4.8" fill="#666" text-anchor="middle" font-weight="normal" textLength="17.10" lengthAdjust="spacingAndGlyphs" >181.891</text>
<text x="531.00" y="192.30" font-size="4.8" fill="#666" text-anchor="middle" font-weight="normal" textLength="17.10" lengthAdjust="spacingAndGlyphs" >230.593</text>
<text x="556.70" y="246.70" font-size="4.8" fill="#666" text-anchor="middle" font-weight="normal" textLength="17.10" lengthAdjust="spacingAndGlyphs" >174.426</text>
<text x="582.40" y="187.00" font-size="4.8" fill="#666" text-anchor="middle" font-weight="normal" textLength="17.10" lengthAdjust="spacingAndGlyphs" >238.606</text>
<text x="608.20" y="240.40" font-size="4.8" fill="#666" text-anchor="middle" font-weight="normal" textLength="17.10" lengthAdjust="spacingAndGlyphs" >184.150</text>
<text x="367.30" y="292.70" font-size="7.1" fill="#383838" text-anchor="start" font-weight="normal" textLength="94.70" lengthAdjust="spacingAndGlyphs" stroke="#383838" stroke-width="0.14">Estudiantes nuevos por sector</text>
<text x="465.40" y="292.70" font-size="7.1" fill="#383838" text-anchor="start" font-weight="normal" textLength="2.60" lengthAdjust="spacingAndGlyphs" stroke="#383838" stroke-width="0.14">-</text>
<text x="470.10" y="292.70" font-size="7.1" fill="#383838" text-anchor="start" font-weight="normal" textLength="43.90" lengthAdjust="spacingAndGlyphs" stroke="#383838" stroke-width="0.14">periodo 20212</text>
<path d="M477.10 306.20A35.4 35.4 0 1 1 467.88 375.78L471.55 362.16A21.3 21.3 0 1 0 477.10 320.30Z" fill="#15503f"/>
<path d="M467.88 375.78A35.4 35.4 0 0 1 477.10 306.20L477.10 320.30A21.3 21.3 0 0 0 471.55 362.16Z" fill="#dfb10f"/>
<text x="430.70" y="338.90" font-size="4.8" fill="#666" text-anchor="end" font-weight="normal" textLength="34.70" lengthAdjust="spacingAndGlyphs" >181.640 (45,8%)</text>
<text x="523.40" y="349.40" font-size="4.8" fill="#666" text-anchor="start" font-weight="normal" textLength="34.40" lengthAdjust="spacingAndGlyphs" >214.963 (54,2%)</text>
<path d="M432.7 337.2H440.5M512.4 346.5L521.6 347.7" stroke="#bbb" stroke-width="0.5" fill="none"/>
<circle cx="589.3" cy="336.7" r="2" fill="#15503f"/><circle cx="589.3" cy="347.4" r="2" fill="#dfb10f"/>
<text x="592.50" y="338.50" font-size="5.0" fill="#666" text-anchor="start" font-weight="normal" textLength="19.10" lengthAdjust="spacingAndGlyphs" >OFICIAL</text>
<text x="592.50" y="349.20" font-size="5.0" fill="#666" text-anchor="start" font-weight="normal" textLength="21.30" lengthAdjust="spacingAndGlyphs" >PRIVADA</text>
</svg>
</body></html>
